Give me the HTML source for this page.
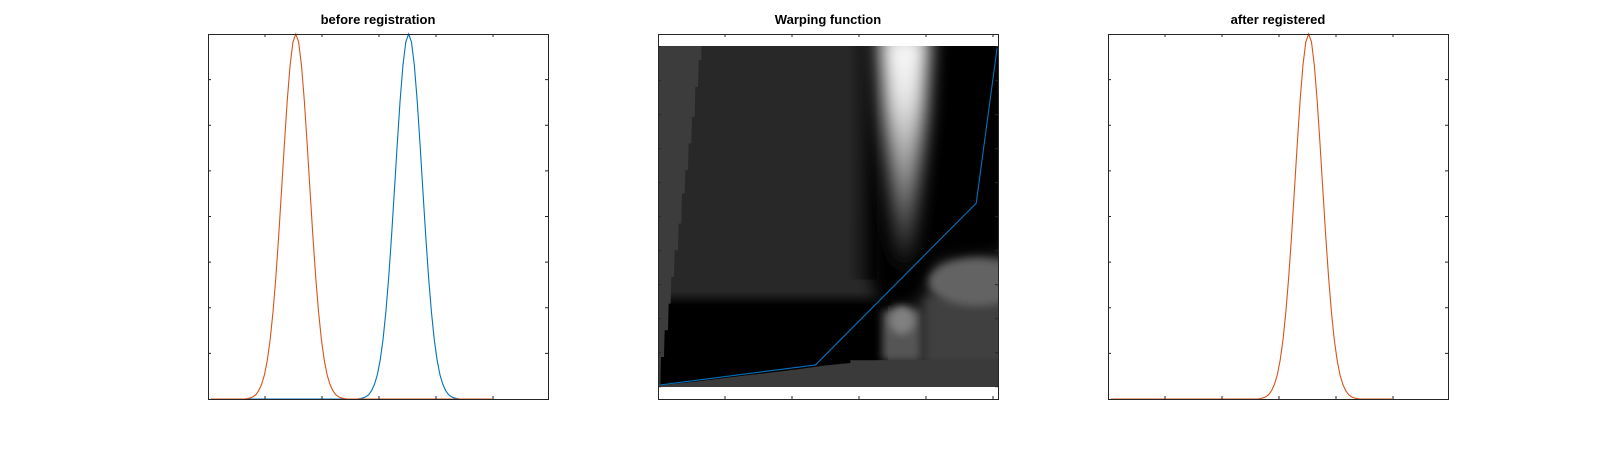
<!DOCTYPE html>
<html><head><meta charset="utf-8">
<style>
html,body{margin:0;padding:0;background:#fff;}
body{width:1600px;height:450px;overflow:hidden;font-family:"Liberation Sans",sans-serif;}
</style></head>
<body>
<svg id="fig" width="1600" height="450" viewBox="0 0 1600 450" xmlns="http://www.w3.org/2000/svg">
<defs>
  <filter id="blur1" x="-30%" y="-30%" width="160%" height="160%"><feGaussianBlur stdDeviation="22"/></filter>
  <filter id="blur3" x="-50%" y="-20%" width="200%" height="140%"><feGaussianBlur stdDeviation="28 40"/></filter>
  <filter id="blur2" x="-20%" y="-20%" width="140%" height="140%"><feGaussianBlur stdDeviation="12"/></filter>
  <linearGradient id="stripe" x1="0" y1="0" x2="0" y2="1">
    <stop offset="0" stop-color="#ffffff"/><stop offset="0.3" stop-color="#e6e6e6"/><stop offset="0.65" stop-color="#8a8a8a"/><stop offset="1" stop-color="#1a1a1a"/>
  </linearGradient>
  <linearGradient id="blackTop" x1="0" y1="0" x2="0" y2="1">
    <stop offset="0" stop-color="#000" stop-opacity="0"/><stop offset="1" stop-color="#000" stop-opacity="1"/>
  </linearGradient>
  <linearGradient id="leftFade" x1="0" y1="0" x2="1" y2="0">
    <stop offset="0" stop-color="#000" stop-opacity="0"/><stop offset="1" stop-color="#000" stop-opacity="1"/>
  </linearGradient>
  <clipPath id="imgclip"><rect x="113" y="78" width="1020" height="1022"/></clipPath>
</defs>

<text x="378" y="24" text-anchor="middle" font-family="Liberation Sans, sans-serif" font-weight="bold" font-size="13" fill="#000">before registration</text>
<text x="828" y="24" text-anchor="middle" font-family="Liberation Sans, sans-serif" font-weight="bold" font-size="13" fill="#000">Warping function</text>
<text x="1278" y="24" text-anchor="middle" font-family="Liberation Sans, sans-serif" font-weight="bold" font-size="13" fill="#000">after registered</text>

<svg x="658" y="46" width="340" height="341" viewBox="113 78 1020 1022" preserveAspectRatio="none">
  <g clip-path="url(#imgclip)">
    <rect x="113" y="78" width="1020" height="1022" fill="#282828"/>
    <rect x="680" y="78" width="90" height="700" fill="url(#leftFade)" opacity="0.7"/>
    <rect x="113" y="815" width="700" height="40" fill="url(#blackTop)"/>
    <rect x="113" y="853" width="690" height="247" fill="#000"/>
    <polygon filter="url(#blur1)" fill="#000" points="760,40 1160,40 1160,700 950,720 905,830 870,860 780,860 750,780 750,600"/>
    <polygon filter="url(#blur3)" fill="url(#stripe)" points="775,20 930,20 915,300 895,500 875,720 830,720 810,500 790,300"/>
    <rect filter="url(#blur2)" x="785" y="870" width="115" height="150" fill="#555"/>
    <ellipse filter="url(#blur2)" cx="845" cy="900" rx="38" ry="42" fill="#808080"/>
    <rect filter="url(#blur2)" x="915" y="830" width="260" height="200" fill="#414141"/>
    <ellipse filter="url(#blur2)" cx="1070" cy="785" rx="145" ry="72" fill="#646464"/>
    <rect x="770" y="1020" width="380" height="90" fill="#3c3c3c"/>
    <polygon fill="#3a3a3a" points="113,1100 118,1095 205,1086 290,1076 370,1066 450,1057 530,1047 610,1036 690,1028 690,1020 780,1020 1133,1020 1133,1100"/>
    <polygon fill="#3c3c3c" points="113,78 243,78 243,120 235,120 233,200 225,200 223,290 215,290 213,370 205,370 203,450 195,450 193,520 185,520 183,610 175,610 173,690 163,690 161,770 153,770 151,850 145,850 143,930 133,930 131,1010 122,1010 120,1095 113,1100"/>
  </g>
</svg>

<g id="plots"></g>
</svg>

<script>
// ---- data ----
const profileStep = 0.05;
const profileValues = [1,0.978,0.914,0.817,0.698,0.571,0.446,0.333,0.238,0.162,0.106,0.066,0.040,0.023,0.012,0.006,0.003,0.001,0];
const beforeCenters = [3.52, 1.54];
const beforeColors = ['#0072BD', '#D95319'];
const afterCenters = [3.52];
const curveDomain = [0.05, 4.98];
const warpX = [0.005, 0.47, 0.95, 1.012];
const warpY = [0.005, 0.064, 0.54, 0.995];
const peakTicksX = [1, 2, 3, 4, 5];
const peakTicksY = [0.125, 0.25, 0.375, 0.5, 0.625, 0.75, 0.875];
const warpTicksX = [0.2, 0.4, 0.6, 0.8, 1.0];
const warpTicksY = [0, 0.1, 0.2, 0.3, 0.4, 0.5, 0.6, 0.7, 0.8, 0.9, 1.0];

const NS = 'http://www.w3.org/2000/svg';
const root = document.getElementById('plots');
function mk(tag, attrs, parent) {
  const e = document.createElementNS(NS, tag);
  for (const k in attrs) e.setAttribute(k, attrs[k]);
  (parent || root).appendChild(e);
  return e;
}
function gauss(x, c) {
  const d = Math.abs(x - c) / profileStep;
  const i = Math.floor(d);
  if (i >= profileValues.length - 1) return 0;
  const f = d - i;
  return profileValues[i] * (1 - f) + profileValues[i + 1] * f;
}
function axesBox(x0, y0, w, h, name, xt, yt, sx, sy) {
  const g = mk('g', {});
  
  
  xt.forEach(t => {
    const px = sx(t);
    const a = mk('line', {x1: px, x2: px, y1: y0 + h, y2: y0 + h - 3, stroke: '#262626', 'stroke-width': 1}, g);
    
    
    const b = mk('line', {x1: px, x2: px, y1: y0, y2: y0 + 3, stroke: '#262626', 'stroke-width': 1}, g);
    
    
  });
  yt.forEach(t => {
    const py = sy(t);
    const a = mk('line', {x1: x0, x2: x0 + 3, y1: py, y2: py, stroke: '#262626', 'stroke-width': 1}, g);
    
    
    const b = mk('line', {x1: x0 + w, x2: x0 + w - 3, y1: py, y2: py, stroke: '#262626', 'stroke-width': 1}, g);
    
    
  });
  const r = mk('rect', {x: x0 + 0.5, y: y0 + 0.5, width: w, height: h, fill: 'none', stroke: '#262626', 'stroke-width': 1}, g);
  
  
}
function curvePath(c, sx, sy) {
  let d = '';
  for (let x = curveDomain[0]; x <= curveDomain[1] + 1e-9; x += 0.01) {
    d += (d ? 'L' : 'M') + sx(x).toFixed(2) + ',' + sy(gauss(x, c)).toFixed(2);
  }
  return d;
}

const L = {x0: 208, y0: 34, w: 340, h: 365};
const lsx = x => L.x0 + x * 57;
const lsy = y => L.y0 + L.h - y * L.h;
beforeCenters.forEach((c, i) => {
  const p = mk('path', {d: curvePath(c, lsx, lsy), fill: 'none', stroke: beforeColors[i], 'stroke-width': 1.1});
  
  
});
axesBox(L.x0, L.y0, L.w, L.h, 'before-registration-axes', peakTicksX, peakTicksY, lsx, lsy);

const M = {x0: 658, y0: 34, w: 340, h: 365};
const msx = x => M.x0 + x * 335;
const msy = y => 386.7 - y * 340;
let wd = '';
warpX.forEach((x, i) => { wd += (i ? 'L' : 'M') + msx(x).toFixed(2) + ',' + msy(warpY[i]).toFixed(2); });
const wp = mk('path', {d: wd, fill: 'none', stroke: '#0072BD', 'stroke-width': 1.1});


axesBox(M.x0, M.y0, M.w, M.h, 'warping-function-axes', warpTicksX, warpTicksY, msx, msy);

const R = {x0: 1108, y0: 34, w: 340, h: 365};
const rsx = x => R.x0 + x * 57;
const rsy = y => R.y0 + R.h - y * R.h;
afterCenters.forEach(c => {
  const p = mk('path', {d: curvePath(c, rsx, rsy), fill: 'none', stroke: '#D95319', 'stroke-width': 1.1});
  
  
});
axesBox(R.x0, R.y0, R.w, R.h, 'after-registered-axes', peakTicksX, peakTicksY, rsx, rsy);
</script>
</body></html>
